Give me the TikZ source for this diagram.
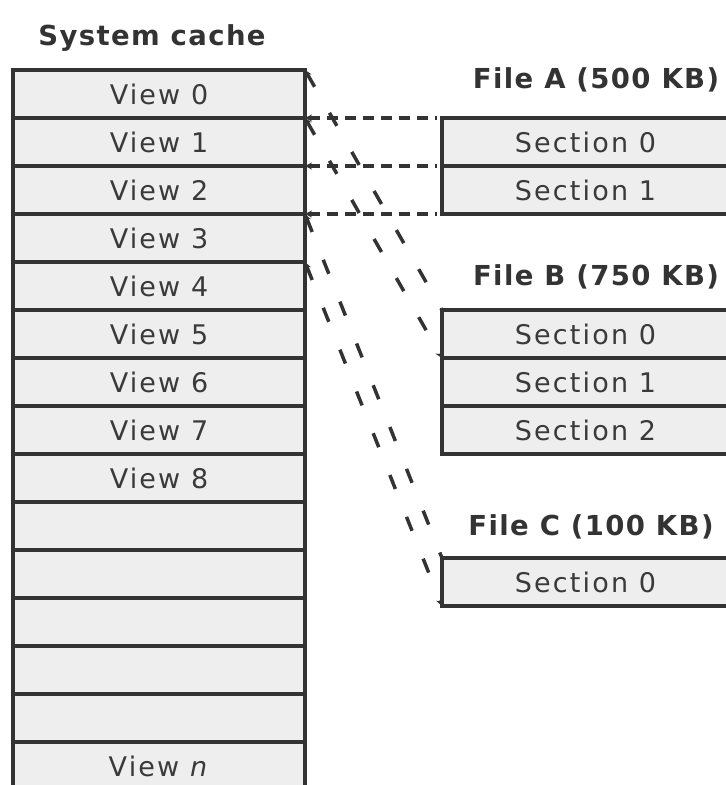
\documentclass[tikz,border=0pt]{standalone}
\usepackage{fontspec}
\setmainfont{DejaVu Sans}[LetterSpace=8]
\newfontfamily\ttlfont{DejaVu Sans}[LetterSpace=5]
\usetikzlibrary{arrows.meta}
\definecolor{linec}{HTML}{333333}
\definecolor{cellfill}{HTML}{EEEEEE}
\definecolor{txtc}{HTML}{3A3A3A}
\begin{document}
\begin{tikzpicture}[x=1pt,y=-1pt,
  cell/.style={draw=linec, fill=cellfill, line width=4pt, minimum width=292pt,
    minimum height=48pt, inner sep=0pt, outer sep=0pt, text=txtc,
    font=\fontsize{27}{30}\selectfont},
  sect/.style={cell, minimum width=287pt},
  ttl/.style={text=linec, inner sep=0pt, anchor=base,
    font=\ttlfont\fontsize{27.5}{30}\selectfont\bfseries},
  tipL/.style={{Stealth[length=7pt,width=7pt]}-},
  tipLR/.style={{Stealth[length=7pt,width=7pt]}-{Stealth[length=7pt,width=7pt]}},
  hlink/.style={draw=linec, line width=4pt, dash pattern=on 11pt off 7pt, shorten >=5pt},
  dlink/.style={draw=linec, line width=3.5pt, dash pattern=on 15pt off 30pt}]
\useasboundingbox (0,0) rectangle (726,785);

% titles
\node[ttl] (tcache) at (152,45) {System cache};
\node[ttl] (tfa) at (596,88) {File A (500 KB)};
\node[ttl] (tfb) at (596,285) {File B (750 KB)};
\node[ttl] (tfc) at (591,535) {File C (100 KB)};

% system cache
\foreach \i/\t in {0/View 0,1/View 1,2/View 2,3/View 3,4/View 4,5/View 5,
  6/View 6,7/View 7,8/View 8,9/,10/,11/,12/,13/}
  \node[cell] (v\i) at (159,94+48*\i) {\t};
\node[cell] (v14) at (159,766) {View \textit{n}};

% file A
\node[sect] (sa0) at (585.5,142) {Section 0};
\node[sect] (sa1) at (585.5,190) {Section 1};
% file B
\node[sect] (sb0) at (585.5,334) {Section 0};
\node[sect] (sb1) at (585.5,382) {Section 1};
\node[sect] (sb2) at (585.5,430) {Section 2};
% file C
\node[sect] (sc0) at (585.5,582) {Section 0};

% connectors
\draw[hlink,tipL] (v1.north east) -- (sa0.north west);
\draw[hlink,tipL] (v2.north east) -- (sa1.north west);
\draw[hlink,tipL] (v3.north east) -- (sa1.south west);

\draw[dlink,tipL] (v0.north east) -- (sb0.north west);
\draw[dlink,tipLR] (v1.north east) -- (sb0.south west);
\draw[dlink,tipL] (v3.north east) -- (sc0.north west);
\draw[dlink,tipLR] (v4.north east) -- (sc0.south west);
\end{tikzpicture}
\end{document}
